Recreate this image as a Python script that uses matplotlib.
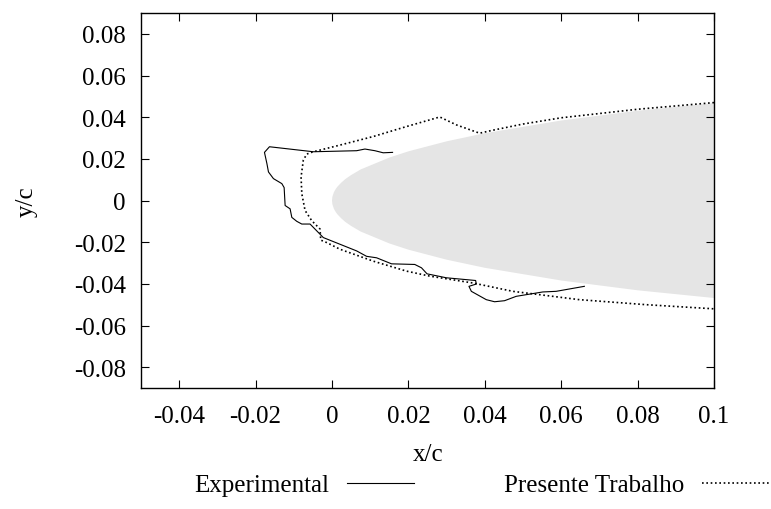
import numpy as np
import matplotlib
matplotlib.use("Agg")
import matplotlib.pyplot as plt

# airfoil leading edge contour (upper surface, symmetric)
foil_x = [0.0, 0.0001, 0.0005, 0.001, 0.0015, 0.0025, 0.0035, 0.005, 0.0075, 0.01, 0.015,
          0.02, 0.03, 0.04, 0.06, 0.08, 0.10, 0.12]
foil_y = [0.0, 0.0018, 0.0040, 0.0056, 0.0068, 0.0087, 0.0103, 0.0122, 0.0149, 0.0168, 0.0206,
          0.0236, 0.0284, 0.0323, 0.0384, 0.0431, 0.0468, 0.0499]

# experimental ice shape
exp_x = [0.01585, 0.0134, 0.01123, 0.00862, 0.00645, -0.00488, -0.01637, -0.01768, -0.01705,
         -0.01663, -0.01533, -0.01313, -0.01253, -0.01227, -0.01097, -0.01052, -0.00922,
         -0.00791, -0.00574, -0.00227, 0.00209, 0.00645, 0.00906, 0.01167, 0.01559, 0.02167,
         0.02342, 0.02488, 0.02995, 0.0376, 0.03778, 0.03585, 0.03648, 0.04039, 0.04256,
         0.04517, 0.04822, 0.05517, 0.05867, 0.06606]
exp_y = [0.0231, 0.0229, 0.0239, 0.0247, 0.0239, 0.0234, 0.0258, 0.0231, 0.0178,
         0.0137, 0.0105, 0.0081, 0.0062, -0.0024, -0.0040, -0.0081, -0.0100,
         -0.0113, -0.0113, -0.0178, -0.0210, -0.0242, -0.0268, -0.0275, -0.0304, -0.0307,
         -0.0323, -0.0352, -0.0371, -0.0384, -0.0401, -0.0412, -0.0436, -0.0476, -0.0486,
         -0.0481, -0.0460, -0.0439, -0.0436, -0.0412]

# computed ice shape (presente trabalho)
sim_x = [0.1, 0.08, 0.06, 0.05, 0.042, 0.03864, 0.03256, 0.0282, 0.02559, 0.0195, 0.01078,
         0.00209, -0.00488, -0.0066, -0.0075, -0.0081, -0.0079, -0.00705, -0.0053, -0.00313,
         -0.00295, -0.00138, 0.00209, 0.01078, 0.0195, 0.02559, 0.0369, 0.04734, 0.06475,
         0.08217, 0.1]
sim_y = [0.0470, 0.0438, 0.0397, 0.0367, 0.0337, 0.0323, 0.0363, 0.0401, 0.0387, 0.0355, 0.0307,
         0.0266, 0.0234, 0.0223, 0.0194, 0.0113, 0.0032, -0.0048, -0.0097, -0.0137,
         -0.0190, -0.0202, -0.0234, -0.0291, -0.0339, -0.0363, -0.0396, -0.0436, -0.0476,
         -0.0500, -0.0520]

x_ticks = [-0.04, -0.02, 0, 0.02, 0.04, 0.06, 0.08, 0.1]
y_ticks = [-0.08, -0.06, -0.04, -0.02, 0, 0.02, 0.04, 0.06, 0.08]

plt.rcParams['font.family'] = ['Liberation Serif', 'DejaVu Serif']
plt.rcParams['axes.unicode_minus'] = False
plt.rcParams['font.size'] = 18

fig = plt.figure(figsize=(7.71, 5.10), dpi=100)
ax = fig.add_axes([141/771, 1-389/510, (714-141)/771, (389-14)/510])

fx = np.array(foil_x)
fy = np.array(foil_y)
ax.fill(np.concatenate([fx, fx[::-1]]), np.concatenate([fy, -fy[::-1]]),
        color='#e5e5e5', lw=0, zorder=1)

ax.plot(exp_x, exp_y, color='black', lw=0.8, label='Experimental', zorder=3)
ax.plot(sim_x, sim_y, color='black', lw=1.2, ls=(0, (1, 1.6)), label='Presente Trabalho', zorder=2)

ax.set_xlim(-0.05, 0.1)
ax.set_ylim(-0.09, 0.09)
ax.set_xticks(x_ticks)
ax.set_yticks(y_ticks)
ax.set_xticklabels(['%g' % v for v in x_ticks])
ax.set_yticklabels(['%g' % v for v in y_ticks])
ax.tick_params(direction='in', length=6, width=0.8, top=True, right=True)
ax.tick_params(axis='x', pad=12)
ax.tick_params(axis='y', pad=11)
for s in ax.spines.values():
    s.set_linewidth(1.0)

ax.set_xlabel('x/c')
ax.set_ylabel('y/c')
ax.xaxis.set_label_coords((428-141)/573, (389-444)/375)
ax.yaxis.set_label_coords((38-141)/573, 0.5)

fig.legend(loc='center left', bbox_to_anchor=(194/771, 1-486/510), ncol=2, frameon=False,
           markerfirst=False, handlelength=2.7, handletextpad=0.7, columnspacing=3.6,
           borderpad=0, borderaxespad=0)

fig.savefig('out.png', dpi=100)
